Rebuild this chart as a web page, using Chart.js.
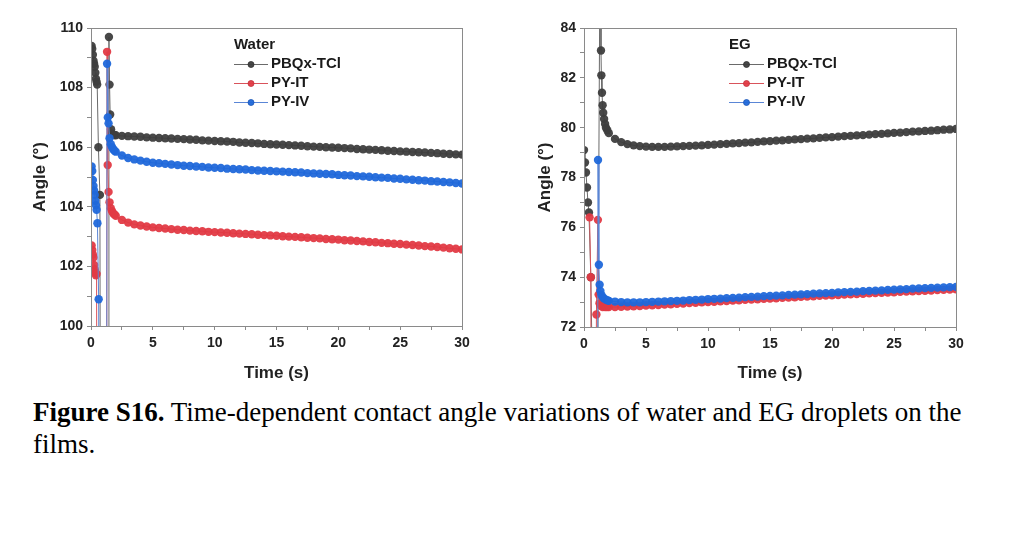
<!DOCTYPE html>
<html>
<head>
<meta charset="utf-8">
<script src="https://cdn.jsdelivr.net/npm/chart.js@4.4.1/dist/chart.umd.min.js"></script>
<style>
  html, body { margin: 0; padding: 0; background: #ffffff; width: 1024px; height: 545px; overflow: hidden; }
  .wrap { position: absolute; top: 0; width: 512px; height: 390px; }
  #caption { position: absolute; left: 33px; top: 396px; width: 945px; font-family: "Liberation Serif", "Times New Roman", serif; font-size: 27px; line-height: 32px; color: #000; }
  #caption b { font-weight: bold; }
</style>
</head>
<body>
<div class="wrap" style="left:0"><canvas id="c1" width="512" height="390"></canvas></div>
<div class="wrap" style="left:512px"><canvas id="c2" width="512" height="390"></canvas></div>
<div id="caption"><b>Figure S16.</b> Time-dependent contact angle variations of water and EG droplets on the films.</div>
<script>
// ---------------- DATA ----------------
const seriesNames = ["PBQx-TCl", "PY-IT", "PY-IV"];
const xTicksMajor = [0, 5, 10, 15, 20, 25, 30];
const waterTicks = [100, 102, 104, 106, 108, 110];
const egTicks = [72, 74, 76, 78, 80, 82, 84];

// common time grid for the slow part of each curve (s)
const tLate = [2, 2.5, 3, 3.5, 4, 4.5, 5, 5.5, 6, 6.5, 7, 7.5, 8, 8.5, 9, 9.5, 10, 10.5, 11, 11.5, 12, 12.5, 13, 13.5, 14, 14.5, 15, 15.5, 16, 16.5, 17, 17.5, 18, 18.5, 19, 19.5, 20, 20.5, 21, 21.5, 22, 22.5, 23, 23.5, 24, 24.5, 25, 25.5, 26, 26.5, 27, 27.5, 28, 28.5, 29, 29.5, 30];

// ---- Water ----
const waterPBQxEarlyT = [0.05, 0.1, 0.15, 0.2, 0.25, 0.3, 0.35, 0.4, 0.45, 0.5, 0.6, 0.72, 0.78, 1.38, 1.45, 1.5, 1.55, 1.62, 1.7, 1.8, 1.9];
const waterPBQxEarlyV = [109.4, 109.3, 109.1, 108.9, 108.8, 108.7, 108.5, 108.3, 108.2, 108.1, 106.0, 104.4, 90, 90, 109.7, 108.1, 107.1, 106.6, 106.45, 106.42, 106.41];
const waterPBQxLate = [106.40, 106.38, 106.37, 106.36, 106.35, 106.33, 106.32, 106.31, 106.30, 106.29, 106.28, 106.27, 106.26, 106.25, 106.23, 106.22, 106.21, 106.20, 106.19, 106.18, 106.16, 106.15, 106.14, 106.13, 106.11, 106.10, 106.09, 106.08, 106.07, 106.06, 106.05, 106.03, 106.02, 106.01, 106.00, 105.99, 105.98, 105.97, 105.96, 105.94, 105.93, 105.92, 105.91, 105.90, 105.88, 105.87, 105.86, 105.85, 105.84, 105.83, 105.82, 105.81, 105.80, 105.78, 105.77, 105.76, 105.75];

const waterPYITEarlyT = [0.05, 0.1, 0.15, 0.2, 0.25, 0.3, 0.35, 0.4, 0.45, 0.5, 1.25, 1.3, 1.35, 1.42, 1.5, 1.6, 1.7, 1.8, 1.9];
const waterPYITEarlyV = [102.7, 102.55, 102.4, 102.3, 102.05, 101.9, 101.8, 101.7, 101.75, 90, 90, 109.2, 105.4, 104.5, 104.15, 103.95, 103.85, 103.78, 103.74];
const waterPYITLate = [103.70, 103.56, 103.47, 103.41, 103.37, 103.34, 103.31, 103.29, 103.27, 103.25, 103.23, 103.22, 103.20, 103.19, 103.18, 103.16, 103.15, 103.14, 103.13, 103.11, 103.10, 103.09, 103.08, 103.06, 103.05, 103.04, 103.03, 103.01, 103.00, 102.99, 102.98, 102.96, 102.95, 102.94, 102.92, 102.91, 102.90, 102.88, 102.87, 102.85, 102.84, 102.82, 102.81, 102.79, 102.78, 102.76, 102.75, 102.73, 102.72, 102.70, 102.68, 102.67, 102.65, 102.63, 102.61, 102.59, 102.57];

const waterPYIVEarlyT = [0.05, 0.1, 0.15, 0.2, 0.25, 0.3, 0.35, 0.4, 0.45, 0.52, 0.62, 0.7, 1.25, 1.3, 1.36, 1.42, 1.5, 1.6, 1.7, 1.8, 1.9];
const waterPYIVEarlyV = [105.35, 105.2, 104.9, 104.7, 104.55, 104.4, 104.2, 104.05, 103.9, 103.45, 100.9, 90, 90, 108.8, 107.0, 106.8, 106.3, 106.1, 106.0, 105.93, 105.88];
const waterPYIVLate = [105.85, 105.72, 105.64, 105.59, 105.55, 105.51, 105.48, 105.46, 105.44, 105.42, 105.40, 105.38, 105.37, 105.35, 105.34, 105.32, 105.31, 105.30, 105.28, 105.27, 105.26, 105.25, 105.23, 105.22, 105.21, 105.20, 105.19, 105.18, 105.17, 105.16, 105.15, 105.13, 105.12, 105.11, 105.10, 105.09, 105.07, 105.06, 105.05, 105.03, 105.02, 105.01, 104.99, 104.98, 104.97, 104.95, 104.94, 104.92, 104.91, 104.89, 104.88, 104.86, 104.85, 104.83, 104.82, 104.80, 104.78];

// ---- EG ----
const egPBQxEarlyT = [0, 0.08, 0.16, 0.24, 0.32, 0.4, 0.55, 1.0, 1.32, 1.37, 1.4, 1.45, 1.5, 1.55, 1.62, 1.7, 1.77, 1.88];
const egPBQxEarlyV = [79.1, 78.6, 78.2, 77.6, 77.0, 76.6, 74.0, 60, 90, 83.1, 82.1, 81.4, 80.9, 80.6, 80.35, 80.15, 80.0, 79.9];
const egPBQxLate = [79.78, 79.55, 79.42, 79.34, 79.29, 79.26, 79.24, 79.23, 79.23, 79.23, 79.24, 79.25, 79.26, 79.27, 79.28, 79.29, 79.31, 79.32, 79.34, 79.35, 79.37, 79.38, 79.40, 79.41, 79.43, 79.45, 79.46, 79.48, 79.49, 79.51, 79.53, 79.54, 79.56, 79.57, 79.59, 79.61, 79.62, 79.64, 79.66, 79.67, 79.69, 79.70, 79.72, 79.74, 79.75, 79.77, 79.79, 79.80, 79.82, 79.84, 79.85, 79.87, 79.88, 79.90, 79.92, 79.93, 79.95];

const egPYITEarlyT = [0.45, 0.55, 0.6, 0.95, 1.0, 1.12, 1.18, 1.25, 1.35, 1.5, 1.7, 1.85];
const egPYITEarlyV = [76.4, 74.0, 60, 60, 72.5, 76.3, 73.3, 72.95, 72.85, 72.8, 72.8, 72.8];
const egPYITLate = [72.80, 72.80, 72.81, 72.82, 72.83, 72.84, 72.86, 72.87, 72.88, 72.90, 72.91, 72.93, 72.94, 72.96, 72.97, 72.99, 73.00, 73.01, 73.03, 73.04, 73.06, 73.07, 73.09, 73.10, 73.11, 73.13, 73.14, 73.15, 73.17, 73.18, 73.19, 73.21, 73.22, 73.23, 73.25, 73.26, 73.27, 73.28, 73.30, 73.31, 73.32, 73.33, 73.35, 73.36, 73.37, 73.38, 73.39, 73.41, 73.42, 73.43, 73.44, 73.45, 73.46, 73.48, 73.49, 73.50, 73.51];

const egPYIVEarlyT = [1.08, 1.13, 1.2, 1.26, 1.32, 1.4, 1.5, 1.6, 1.75, 1.9];
const egPYIVEarlyV = [60, 78.7, 74.5, 73.7, 73.45, 73.3, 73.2, 73.15, 73.1, 73.07];
const egPYIVLate = [73.05, 73.02, 73.00, 72.99, 72.99, 72.99, 73.00, 73.01, 73.02, 73.03, 73.04, 73.05, 73.06, 73.08, 73.09, 73.10, 73.12, 73.13, 73.14, 73.16, 73.17, 73.18, 73.20, 73.21, 73.22, 73.24, 73.25, 73.26, 73.27, 73.29, 73.30, 73.31, 73.32, 73.34, 73.35, 73.36, 73.37, 73.39, 73.40, 73.41, 73.42, 73.44, 73.45, 73.46, 73.47, 73.49, 73.50, 73.51, 73.52, 73.54, 73.55, 73.56, 73.57, 73.58, 73.59, 73.60, 73.61];

// ---------------- STYLE ----------------
const styles = [
  { line: "#6a6a6a", fill: "rgba(62,62,62,0.95)", edge: "#2e2e2e" },
  { line: "#d9535b", fill: "rgba(226,58,68,0.95)", edge: "#c0303a" },
  { line: "#5a86d6", fill: "rgba(32,104,218,0.95)", edge: "#1a55b5" }
];
const FONT = "'Liberation Sans', Arial, sans-serif";
const AXIS = "#8a8a8a";

function pts(tE, vE, vL) {
  return tE.map((t, i) => ({ x: t, y: vE[i] })).concat(tLate.map((t, i) => ({ x: t, y: vL[i] })));
}
function ds(i, data) {
  return {
    label: seriesNames[i], data: data, showLine: true,
    borderColor: styles[i].line, borderWidth: 1,
    pointRadius: 4.2, pointBorderWidth: 0,
    pointBackgroundColor: styles[i].fill, pointBorderColor: styles[i].edge,
    order: 3 - i
  };
}

const framePlugin = {
  id: "frame",
  afterDatasetsDraw(chart) {
    const a = chart.chartArea, ctx = chart.ctx;
    ctx.save();
    ctx.strokeStyle = AXIS; ctx.lineWidth = 1;
    ctx.strokeRect(Math.round(a.left) + 0.5, Math.round(a.top) + 0.5, Math.round(a.right - a.left), Math.round(a.bottom - a.top));
    ctx.restore();
  }
};
const legendPlugin = {
  id: "insideLegend",
  afterDraw(chart, args, opts) {
    const ctx = chart.ctx;
    ctx.save();
    ctx.fillStyle = "#1a1a1a";
    ctx.font = "bold 15px " + FONT;
    ctx.textBaseline = "middle";
    ctx.fillText(opts.title, opts.x, opts.y0);
    chart.data.datasets.forEach((d, i) => {
      const y = opts.y0 + opts.dy * (i + 1);
      ctx.strokeStyle = styles[i].line; ctx.lineWidth = 1;
      ctx.beginPath(); ctx.moveTo(opts.x, y + 0.5); ctx.lineTo(opts.x + opts.len, y + 0.5); ctx.stroke();
      ctx.beginPath(); ctx.arc(opts.x + opts.len / 2, y + 0.5, 3, 0, Math.PI * 2);
      ctx.fillStyle = styles[i].fill; ctx.fill();
      ctx.strokeStyle = styles[i].edge; ctx.lineWidth = 0.8; ctx.stroke();
      ctx.fillStyle = "#1a1a1a";
      ctx.fillText(d.label, opts.x + opts.len + 3, y);
    });
    ctx.restore();
  }
};

function makeChart(id, datasets, yMin, yMax, majorY, yAxisW, xAxisH, padRight, yTitlePad, legend) {
  return new Chart(document.getElementById(id), {
    type: "scatter",
    data: { datasets: datasets },
    plugins: [framePlugin, legendPlugin],
    options: {
      responsive: false, animation: false, devicePixelRatio: 1,
      layout: { padding: { left: 0, top: 28, right: padRight, bottom: 0 } },
      plugins: { legend: { display: false }, tooltip: { enabled: false }, insideLegend: legend },
      scales: {
        x: {
          type: "linear", min: 0, max: 30,
          afterFit(s) { s.height = xAxisH; },
          afterBuildTicks(s) { s.ticks = [0, 2.5, 5, 7.5, 10, 12.5, 15, 17.5, 20, 22.5, 25, 27.5, 30].map(v => ({ value: v })); },
          ticks: { autoSkip: false, maxRotation: 0, padding: 5, color: "#222", font: { family: FONT, size: 14, weight: "bold" },
                   callback: v => xTicksMajor.includes(v) ? String(v) : "" },
          grid: { drawOnChartArea: false, drawTicks: true, tickLength: 4, color: AXIS },
          border: { color: AXIS, width: 1 },
          title: { display: true, text: "Time (s)", color: "#222", font: { family: FONT, size: 17, weight: "bold" }, padding: { top: 0, bottom: 6 } }
        },
        y: {
          type: "linear", min: yMin, max: yMax,
          afterFit(s) { s.width = yAxisW; },
          afterBuildTicks(s) { const t = []; for (let v = yMin; v <= yMax; v += 1) t.push({ value: v }); s.ticks = t; },
          ticks: { autoSkip: false, padding: 4, color: "#222", font: { family: FONT, size: 14, weight: "bold" },
                   callback: v => majorY.includes(v) ? String(v) : "" },
          grid: { drawOnChartArea: false, drawTicks: true, tickLength: 4, color: AXIS },
          border: { color: AXIS, width: 1 },
          title: { display: true, text: "Angle (°)", color: "#222", font: { family: FONT, size: 17, weight: "bold" }, padding: { top: yTitlePad, bottom: 0 } }
        }
      }
    }
  });
}

makeChart("c1", [
  ds(0, pts(waterPBQxEarlyT, waterPBQxEarlyV, waterPBQxLate)),
  ds(1, pts(waterPYITEarlyT, waterPYITEarlyV, waterPYITLate)),
  ds(2, pts(waterPYIVEarlyT, waterPYIVEarlyV, waterPYIVLate))
], 100, 110, waterTicks, 91, 64, 50, 30, { title: "Water", x: 234, y0: 45, dy: 19, len: 34 });

makeChart("c2", [
  ds(0, pts(egPBQxEarlyT, egPBQxEarlyV, egPBQxLate)),
  ds(1, pts(egPYITEarlyT, egPYITEarlyV, egPYITLate)),
  ds(2, pts(egPYIVEarlyT, egPYIVEarlyV, egPYIVLate))
], 72, 84, egTicks, 72, 63, 68, 23, { title: "EG", x: 217, y0: 45, dy: 19, len: 35 });
</script>
</body>
</html>
